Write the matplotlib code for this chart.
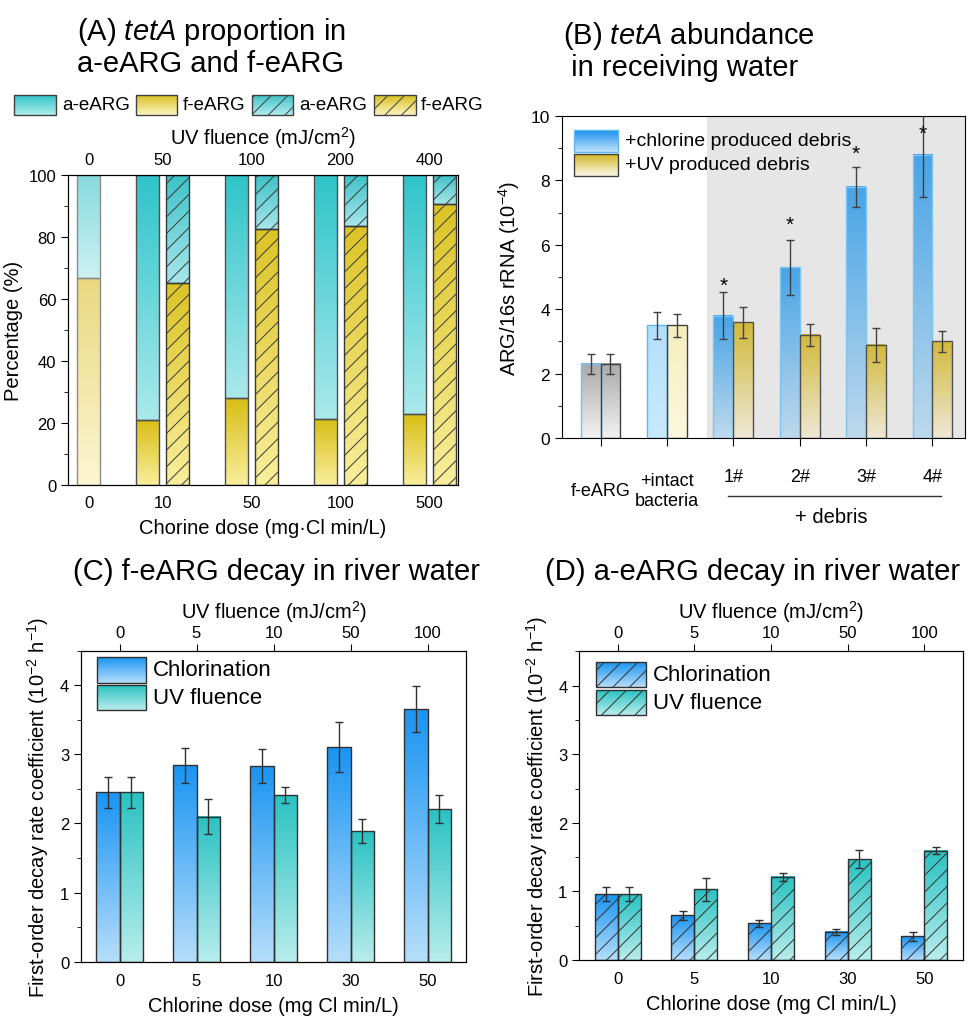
import numpy as np
import matplotlib
matplotlib.use('Agg')
import matplotlib.pyplot as plt
from matplotlib.colors import LinearSegmentedColormap
from matplotlib.patches import Rectangle
from matplotlib.ticker import MultipleLocator

plt.rcParams['font.family'] = ['Liberation Sans', 'DejaVu Sans']
plt.rcParams['mathtext.fontset'] = 'custom'
plt.rcParams['mathtext.rm'] = 'Liberation Sans'
plt.rcParams['mathtext.it'] = 'Liberation Sans:italic'
plt.rcParams['hatch.linewidth'] = 0.7

# panel A: tetA proportion (%)
chlor_dose_a = ['0', '10', '50', '100', '500']
uv_fluence_a = ['0', '50', '100', '200', '400']
f_ctrl = 66.7
f_chlor = np.array([21.0, 28.0, 21.3, 23.0])
f_uv = np.array([65.3, 82.7, 83.7, 90.7])

# panel B: abundance in receiving water (1e-4)
groups_b = ['f-eARG', '+intact\nbacteria', '1#', '2#', '3#', '4#']
chl_debris = [2.3, 3.5, 3.8, 5.3, 7.8, 8.8]
chl_err = [0.3, 0.42, 0.72, 0.86, 0.62, 1.33]
uv_debris = [2.3, 3.5, 3.6, 3.2, 2.9, 3.0]
uv_err = [0.3, 0.35, 0.48, 0.35, 0.53, 0.33]
star_y = [None, None, 4.75, 6.65, 8.85, 9.45]

# panels C/D: decay rate (1e-2 h-1)
chlor_dose = ['0', '5', '10', '30', '50']
uv_fluence = ['0', '5', '10', '50', '100']
f_chl_k = [2.45, 2.84, 2.83, 3.11, 3.66]
f_chl_err = [0.22, 0.25, 0.25, 0.36, 0.33]
f_uv_k = [2.45, 2.10, 2.41, 1.89, 2.21]
f_uv_err = [0.22, 0.25, 0.12, 0.17, 0.20]
a_chl_k = [0.96, 0.65, 0.535, 0.41, 0.345]
a_chl_err = [0.10, 0.07, 0.05, 0.04, 0.07]
a_uv_k = [0.96, 1.03, 1.215, 1.47, 1.59]
a_uv_err = [0.10, 0.17, 0.06, 0.13, 0.05]

GRAD = np.linspace(0, 1, 128).reshape(-1, 1)
W, H = 972, 1020


def fill_grad(ax, bars, top, bot, z=1):
    cmap = LinearSegmentedColormap.from_list('g', [bot, top])
    for b in bars:
        x, y = b.get_x(), b.get_y()
        w, h = b.get_width(), b.get_height()
        ax.imshow(GRAD, extent=[x, x + w, y, y + h], origin='lower', cmap=cmap,
                  aspect='auto', interpolation='bilinear', zorder=z)


def gbar(ax, x, h, w, top, bot, bottom=0, ec='#303030', hatch=None, lw=1):
    bars = ax.bar(x, h, w, bottom=bottom, facecolor='none', edgecolor=ec,
                  hatch=hatch, lw=lw, zorder=2)
    fill_grad(ax, bars, top, bot)
    return bars


fig = plt.figure(figsize=(W / 100, H / 100), dpi=100)


def fx(px):
    return px / W


def fy(py):
    return 1 - py / H


# ---------------- (A)
axA = fig.add_axes([fx(68), fy(486), fx(390), 310 / H])
pos_a = np.arange(5, dtype=float)
pos_a[0] = 0.17
wa, off = 0.26, 0.17
gbar(axA, pos_a[0], f_ctrl, wa, '#EAD880', '#FCF6D2', ec='#8c8c8c')
gbar(axA, pos_a[0], 100 - f_ctrl, wa, '#86DADF', '#CDF1F3', bottom=f_ctrl, ec='#8c8c8c')
xc = pos_a[1:] - off
xu = pos_a[1:] + off
gbar(axA, xc, f_chlor, wa, '#D8BE14', '#F9EE9C', ec='#505050')
gbar(axA, xc, 100 - f_chlor, wa, '#2EC4C9', '#AAE9EC', bottom=f_chlor, ec='#505050')
gbar(axA, xu, f_uv, wa, '#DCC426', '#F9EE9C', ec='#383838', hatch='//')
gbar(axA, xu, 100 - f_uv, wa, '#3EC2C8', '#A6E6EA', bottom=f_uv, ec='#383838', hatch='//')
axA.set_xlim(-0.062, 4.32)
axA.set_ylim(0, 100)
axA.yaxis.set_major_locator(MultipleLocator(20))
axA.yaxis.set_minor_locator(MultipleLocator(10))
axA.tick_params(axis='y', which='both', direction='out', labelsize=12)
axA.tick_params(axis='y', which='major', length=5)
axA.tick_params(axis='y', which='minor', length=3)
axA.set_xticks(pos_a)
axA.set_xticklabels(chlor_dose_a)
axA.tick_params(axis='x', length=0, pad=7, labelsize=12)
axA.set_xlabel('Chorine dose (mg\u00b7Cl min/L)', fontsize=14.5, labelpad=6)
axA.set_ylabel('Percentage (%)', fontsize=14.5, labelpad=4)
tA = axA.twiny()
tA.set_xlim(axA.get_xlim())
tA.set_xticks(pos_a)
tA.set_xticklabels(uv_fluence_a)
tA.tick_params(axis='x', length=0, pad=6, labelsize=12)
tA.set_xlabel('UV fluence (mJ/cm$^2$)', fontsize=14.5, labelpad=6)

# ---------------- (B)
axB = fig.add_axes([fx(562), fy(439), fx(403), 322 / H])
pos_b = np.arange(len(groups_b))
wb = 0.3
axB.axvspan(1.6, 5.6, color='#E6E6E6', zorder=0, lw=0)
left_cols = [('#A9A9A9', '#F2F2F2', '#6EC2F4'), ('#B3DFFB', '#C9EAFD', '#5CB8F0')] + \
            [('#48A4E6', '#BED9EC', '#7CC4F4')] * 4
right_cols = [('#A9A9A9', '#F2F2F2', '#404040'), ('#F5EFBE', '#FBF8DE', '#404040')] + \
             [('#D2B93A', '#EEE8D6', '#505050')] * 4
for i in range(len(groups_b)):
    t, b, e = left_cols[i]
    gbar(axB, pos_b[i] - wb / 2, chl_debris[i], wb, t, b, ec=e)
    t, b, e = right_cols[i]
    gbar(axB, pos_b[i] + wb / 2, uv_debris[i], wb, t, b, ec=e)
axB.errorbar(pos_b - wb / 2, chl_debris, yerr=chl_err, fmt='none', ecolor='#404040',
             elinewidth=1, capsize=3, zorder=3)
axB.errorbar(pos_b + wb / 2, uv_debris, yerr=uv_err, fmt='none', ecolor='#404040',
             elinewidth=1, capsize=3, zorder=3)
for i, sy in enumerate(star_y):
    if sy is not None:
        axB.text(pos_b[i] - wb / 2, sy, '*', ha='center', va='center', fontsize=15, zorder=4)
axB.set_xlim(-0.58, 5.49)
axB.set_ylim(0, 10)
axB.yaxis.set_major_locator(MultipleLocator(2))
axB.yaxis.set_minor_locator(MultipleLocator(1))
axB.tick_params(axis='y', which='both', direction='out', labelsize=12.5)
axB.tick_params(axis='y', which='major', length=5)
axB.tick_params(axis='y', which='minor', length=3)
axB.set_xticks(pos_b)
axB.set_xticklabels([])
axB.tick_params(axis='x', direction='out', length=6)
axB.set_ylabel('ARG/16s rRNA (10$^{-4}$)', fontsize=14.5, labelpad=6)
tr = axB.get_xaxis_transform()
for i, g in enumerate(groups_b):
    yy = -0.163 if i < 2 else -0.121
    axB.text(pos_b[i], yy, g, transform=tr, ha='center', va='center', fontsize=13,
             linespacing=1.25)
axB.plot([1.92, 5.13], [-0.18, -0.18], transform=tr, color='#303030', lw=1, clip_on=False)
axB.text(3.48, -0.245, '+ debris', transform=tr, ha='center', va='center', fontsize=14.5)


# ---------------- (C) and (D)
def decay_panel(rect, chl, chl_e, uv, uv_e, hatch):
    ax = fig.add_axes(rect)
    x = np.arange(len(chlor_dose))
    w = 0.3
    gbar(ax, x - w / 2, chl, w, '#1A94F2', '#B6DEFB', ec='#303030', hatch=hatch)
    gbar(ax, x + w / 2, uv, w, '#2AC2C2', '#B8EDEC', ec='#303030', hatch=hatch)
    ax.errorbar(x - w / 2, chl, yerr=chl_e, fmt='none', ecolor='#303030', elinewidth=1,
                capsize=3, zorder=3)
    ax.errorbar(x + w / 2, uv, yerr=uv_e, fmt='none', ecolor='#303030', elinewidth=1,
                capsize=3, zorder=3)
    ax.set_xlim(-0.5, 4.5)
    ax.set_ylim(0, 4.5)
    ax.yaxis.set_major_locator(MultipleLocator(1))
    ax.yaxis.set_minor_locator(MultipleLocator(0.5))
    ax.tick_params(axis='y', which='both', direction='out', labelsize=12)
    ax.tick_params(axis='y', which='major', length=5)
    ax.tick_params(axis='y', which='minor', length=3)
    ax.set_xticks(x)
    ax.set_xticklabels(chlor_dose)
    ax.tick_params(axis='x', direction='in', length=4, pad=8, labelsize=12)
    ax.set_xlabel('Chlorine dose (mg Cl min/L)', fontsize=14.5, labelpad=6)
    ax.set_ylabel('First-order decay rate coefficient (10$^{-2}$ h$^{-1}$)', fontsize=14.5,
                  labelpad=6)
    top = ax.twiny()
    top.set_xlim(ax.get_xlim())
    top.set_xticks(x)
    top.set_xticklabels(uv_fluence)
    top.tick_params(axis='x', direction='out', length=5, pad=3, labelsize=12)
    top.set_xlabel('UV fluence (mJ/cm$^2$)', fontsize=14.5, labelpad=5)
    return ax


axC = decay_panel([fx(81), fy(962.7), fx(385), 311 / H], f_chl_k, f_chl_err, f_uv_k, f_uv_err, None)
axD = decay_panel([fx(579.3), fy(961), fx(383.4), 308.7 / H], a_chl_k, a_chl_err, a_uv_k, a_uv_err, '//')

# ---------------- titles
fig.text(fx(77), fy(47), '(A) $\\mathit{tetA}$ proportion in\na-eARG and f-eARG',
         fontsize=21, va='center', ha='left', linespacing=1.1)
fig.text(fx(563), fy(51), '(B) $\\mathit{tetA}$ abundance\n in receiving water',
         fontsize=21, va='center', ha='left', linespacing=1.1)
fig.text(fx(73), fy(572), '(C) f-eARG decay in river water', fontsize=21, va='center')
fig.text(fx(545), fy(572), '(D) a-eARG decay in river water', fontsize=21, va='center')

# ---------------- legends (overlay in pixel units)
lay = fig.add_axes([0, 0, 1, 1])
lay.axis('off')


def swatch(x0, y0, x1, y1, top, bot, hatch=None, ec='#404040'):
    cmap = LinearSegmentedColormap.from_list('s', [bot, top])
    lay.imshow(GRAD, extent=[x0, x1, y1, y0], origin='lower', cmap=cmap, aspect='auto',
               interpolation='bilinear', zorder=1)
    lay.add_patch(Rectangle((x0, y0), x1 - x0, y1 - y0, fill=False, ec=ec, lw=1,
                            hatch=hatch, zorder=2))


leg_a = [(14, 56, '#30C4C8', '#B0ECEE', None, 'a-eARG', 62),
         (136, 177, '#D8C020', '#FCF4C0', None, 'f-eARG', 183),
         (252, 293, '#40C2C8', '#B0ECEE', '//', 'a-eARG', 299),
         (374, 416, '#D8C020', '#FCF4C0', '//', 'f-eARG', 421)]
for x0, x1, t, b, h, lab, tx in leg_a:
    swatch(x0, 96, x1, 116, t, b, hatch=h)
    lay.text(tx, 106, lab, fontsize=13.5, va='center', ha='left')

swatch(574, 131, 618, 153, '#1E90F0', '#C0E4FC', ec='#5CB8F0')
swatch(574, 155, 618, 177, '#D2B828', '#FBF8E8')
lay.text(625, 142, '+chlorine produced debris', fontsize=14, va='center')
lay.text(625, 166, '+UV produced debris', fontsize=14, va='center')

for (x0, x1, tx, y1a, y2a, y1b, y2b, h) in [(97, 146, 153, 658, 684, 686, 711, None),
                                            (596, 646, 653, 663, 688, 691, 716, '//')]:
    swatch(x0, y1a, x1, y2a, '#1A94F2', '#B6DEFB', hatch=h, ec='#303030')
    swatch(x0, y1b, x1, y2b, '#2AC2C2', '#B8EDEC', hatch=h, ec='#303030')
    lay.text(tx, (y1a + y2a) / 2, 'Chlorination', fontsize=16, va='center')
    lay.text(tx, (y1b + y2b) / 2, 'UV fluence', fontsize=16, va='center')

lay.set_xlim(0, W)
lay.set_ylim(H, 0)

fig.savefig('out.png', dpi=100)
